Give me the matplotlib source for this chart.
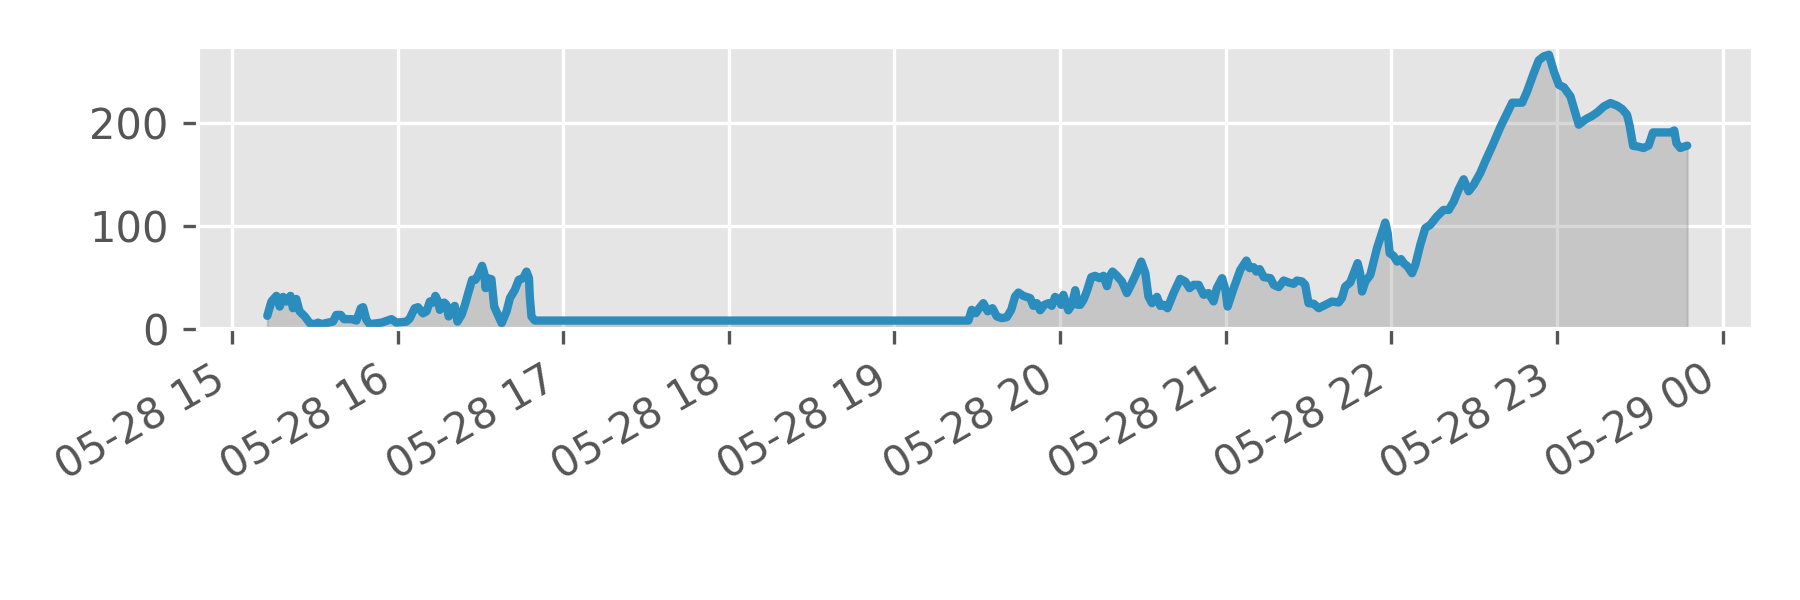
import numpy as np
import pandas as pd
import matplotlib
matplotlib.use('Agg')
import matplotlib.pyplot as plt
import matplotlib.dates as mdates

# minutes after 05-28 15:00, and the value at that time
minutes = [
    12.8, 14.3, 16.1, 17.3, 18.5, 19.7, 21.2, 22.1, 23.3, 24.5, 26.4, 28.2, 30.0,
    31.2, 32.4, 34.8, 36.6, 37.8, 39.4, 40.6, 43.3, 45.1, 46.7, 47.5, 48.7, 49.9,
    54.2, 57.8, 59.6, 63.2, 64.4, 66.2, 67.4, 69.2, 70.5, 71.7, 72.9, 73.7, 74.7,
    75.3, 76.9, 77.7, 78.5, 79.5, 80.7, 81.7, 83.2, 84.4, 85.6, 87.0, 88.2, 89.2,
    90.6, 91.4, 91.9, 92.6, 94.0, 95.0, 97.7, 99.5, 100.7, 102.5, 103.9, 105.5,
    106.7, 107.6, 107.9, 108.5, 109.7, 266.8,
    268.0, 269.5, 270.7, 272.2, 273.8, 275.5, 277.1, 278.9, 280.7, 282.3, 283.7,
    284.9, 286.7, 289.2, 290.3, 291.6, 292.8, 294.3, 295.8, 297.0, 298.2, 299.7,
    300.4, 301.2, 303.0, 304.3, 305.5, 306.4, 307.3, 308.5, 309.7, 311.3, 312.7,
    314.2, 315.7, 317.0, 317.8, 319.0, 320.6, 322.4, 324.2, 326.0, 327.5, 329.4,
    330.9, 332.0, 333.3, 335.1, 336.3, 337.5, 338.9, 341.1, 343.5, 345.3, 346.9,
    348.4, 350.2, 352.0, 353.8, 355.6, 356.8, 358.7, 359.9, 360.7, 362.9, 365.3,
    367.5, 368.7, 370.1, 371.1, 372.3, 373.8, 376.2, 377.4, 379.2, 381.0, 382.8,
    384.6, 385.8, 387.6, 388.8, 390.0, 391.9, 393.7, 396.1, 398.5, 400.9, 402.1,
    403.3, 405.1, 407.8, 408.7, 409.4, 410.6, 412.4, 414.8, 417.8, 418.7, 419.4,
    420.8, 422.1, 423.5, 424.7, 425.7, 427.5, 428.7, 430.5, 432.3, 434.1, 436.5,
    438.9, 440.8, 442.6, 444.4, 446.2, 448.0, 449.8, 452.2, 454.0, 456.5, 459.5,
    463.8, 467.4, 469.2, 471.6, 473.4, 475.2, 477.1, 478.9, 480.7, 482.5, 484.9,
    486.7, 487.9, 490.4, 492.8, 494.6, 497.0, 499.4, 501.8, 503.6, 505.4, 506.4,
    507.6, 509.0, 511.4, 513.2, 514.8, 517.5, 521.1, 522.5, 523.3, 524.7, 527.2,
]
values = [
    12.6, 26.5, 32.0, 21.6, 31.0, 26.5, 32.0, 20.0, 29.0, 17.0, 12.0, 5.5, 4.5,
    6.0, 4.5, 6.0, 7.0, 13.5, 13.5, 9.4, 9.4, 8.0, 20.0, 21.0, 8.7, 4.5,
    6.0, 9.4, 6.0, 7.0, 10.0, 20.0, 21.0, 15.0, 17.0, 26.5, 25.5, 32.0, 26.5,
    18.4, 25.5, 23.3, 12.0, 18.4, 22.3, 7.0, 13.6, 23.3, 34.7, 47.6, 47.6, 52.4,
    61.2, 54.0, 39.5, 49.2, 48.2, 21.6, 5.5, 17.0, 29.8, 37.9, 47.6, 49.2,
    55.6, 49.2, 31.4, 12.0, 8.0, 8.0,
    18.4, 15.2, 20.0, 24.9, 17.0, 20.0, 12.0, 10.4, 11.3, 18.4, 31.4,
    35.2, 32.0, 29.8, 22.3, 24.9, 18.0, 23.3, 24.9, 22.3, 31.0, 28.2,
    23.3, 33.0, 18.0, 23.3, 37.5, 23.3, 23.3, 28.2, 36.5, 50.2, 51.5,
    49.2, 51.5, 41.4, 50.2, 55.6, 51.5, 45.9, 34.7, 44.4, 53.0, 65.3,
    54.0, 31.4, 24.9, 31.0, 22.3, 23.3, 20.0, 34.7, 48.5, 46.0, 39.5,
    42.7, 42.7, 33.0, 34.7, 26.6, 39.5, 49.2, 37.9, 21.6, 39.5, 57.3,
    66.3, 58.9, 59.9, 55.6, 58.0, 50.2, 49.2, 42.7, 40.5, 46.9, 45.0,
    43.7, 46.9, 46.0, 42.7, 24.9, 24.3, 20.0, 23.3, 26.5, 25.6, 29.8,
    41.0, 45.0, 63.8, 54.0, 36.2, 46.0, 52.4, 78.3, 103.2, 92.9, 73.5,
    70.9, 65.3, 67.7, 63.1, 61.2, 54.0, 62.1, 81.6, 97.8, 101.0, 109.1,
    115.5, 115.5, 123.6, 135.6, 145.3, 133.6, 139.8, 151.3, 162.6, 177.3, 196.0,
    219.7, 219.7, 230.7, 248.5, 260.8, 264.7, 266.3, 250.0, 237.0, 234.7, 225.8,
    209.4, 198.3, 203.6, 207.0, 210.3, 216.1, 219.4, 216.8, 213.6, 208.0, 196.7,
    177.7, 177.3, 175.7, 178.0, 190.8, 190.8, 190.8, 192.7, 180.3, 175.7, 178.0,
]

start = pd.Timestamp('2020-05-28 15:00')
times = start + pd.to_timedelta(minutes, unit='m')

plt.style.use('ggplot')

fig, ax = plt.subplots(figsize=(6, 2), dpi=300)
fig.subplots_adjust(left=0.11, right=0.974, bottom=0.452, top=0.922)

ax.fill_between(times, values, 0, color='gray', alpha=0.3)
ax.plot(times, values, color='#2B8CBE', linewidth=2, solid_joinstyle='round',
        solid_capstyle='round')

ax.set_xlim(start - pd.Timedelta(minutes=12.3), start + pd.Timedelta(minutes=551.1))
ax.set_ylim(0, 274)
ax.set_yticks([0, 100, 200])

ax.xaxis.set_major_locator(mdates.HourLocator())
ax.xaxis.set_major_formatter(mdates.DateFormatter('%m-%d %H'))
plt.setp(ax.get_xticklabels(), rotation=30, ha='right')

fig.savefig('out.png')
